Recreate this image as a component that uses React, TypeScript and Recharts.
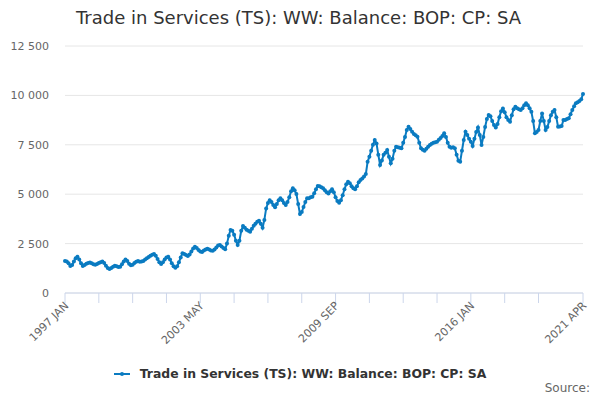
import { CartesianGrid, Line, LineChart, XAxis, YAxis } from "recharts";

const MONTH_NAMES = ["JAN", "FEB", "MAR", "APR", "MAY", "JUN", "JUL", "AUG", "SEP", "OCT", "NOV", "DEC"];

// monthly balance, 1997 JAN .. 2021 APR (£ million)
const balance = [
  1620, 1600, 1500, 1370, 1420, 1600, 1760, 1840, 1700, 1500, 1370, 1420,
  1480, 1520, 1540, 1500, 1450, 1430, 1470, 1520, 1560, 1590, 1520, 1380,
  1260, 1210, 1260, 1330, 1380, 1360, 1320, 1330, 1450, 1600, 1700, 1620,
  1480, 1400, 1430, 1520, 1580, 1620, 1580, 1590, 1620, 1700, 1760, 1820,
  1880, 1930, 1970, 1880, 1720, 1550, 1470, 1550, 1700, 1800, 1840, 1700,
  1500, 1350, 1280, 1350, 1550, 1800, 2010, 1980, 1920, 1870, 1950, 2100,
  2250, 2340, 2280, 2180, 2100, 2070, 2150, 2200, 2240, 2200, 2150, 2140,
  2200, 2300, 2400, 2430, 2350, 2280, 2210, 2500, 2900, 3190, 3150, 2950,
  2650, 2430, 2650, 3150, 3390, 3300, 3200, 3150, 3100, 3250, 3400, 3500,
  3600, 3660, 3500, 3300, 3700, 4280, 4550, 4700, 4600, 4450, 4340, 4500,
  4700, 4790, 4700, 4550, 4450, 4600, 4850, 5150, 5300, 5200, 5010, 4500,
  4000, 4100, 4350, 4600, 4790, 4800, 4850, 4870, 5050, 5250, 5410, 5400,
  5350, 5300, 5200, 5100, 5040, 5150, 5250, 5100, 4850, 4650, 4570, 4700,
  4950, 5250, 5500, 5630, 5550, 5400, 5300, 5250, 5400, 5600, 5720, 5800,
  5900, 6020, 6640, 6900, 7200, 7500, 7740, 7570, 7000, 6480, 6700, 7000,
  7100, 7240, 6900, 6560, 6800, 7200, 7400, 7380, 7350, 7320, 7600, 7900,
  8250, 8410, 8300, 8160, 8050, 7980, 7910, 7600, 7320, 7250, 7200, 7300,
  7400, 7490, 7550, 7600, 7630, 7660, 7750, 7850, 7950, 8080, 7900, 7600,
  7400, 7350, 7380, 7320, 7000, 6690, 6640, 7200, 7740, 8160, 8000, 7800,
  7660, 7440, 7800, 8150, 8380, 8000, 7490, 7900, 8400, 8800, 9010, 8950,
  8700, 8500, 8380, 8550, 8900, 9200, 9340, 9150, 8900, 8750, 8670, 9000,
  9300, 9430, 9350, 9300, 9260, 9350, 9500, 9600, 9500, 9350, 9170, 8700,
  8080, 8150, 8250, 8700, 9090, 8700, 8250, 8400, 8700, 9000, 9170, 9260,
  8900, 8410, 8420, 8450, 8750, 8760, 8800, 8840, 9050, 9260, 9450, 9600,
  9650, 9720, 9800, 10070,
];

const months = balance.map((_, i) => `${1997 + Math.floor(i / 12)} ${MONTH_NAMES[i % 12]}`);

const xTicks = [0, 19, 38, 57, 76, 95, 114, 133, 152, 171, 190, 209, 228, 247, 266, 291];
const xLabelled = [0, 76, 152, 228, 291];
const yTicks = [0, 2500, 5000, 7500, 10000, 12500];

const TITLE = "Trade in Services (TS): WW: Balance: BOP: CP: SA";
const BLUE = "#0a7bc1";
const FONT = "'DejaVu Sans', sans-serif";

const data = balance.map((value, i) => ({ i, month: months[i], value }));

const fmt = (v: number) => String(v).replace(/\B(?=(\d{3})+(?!\d))/g, " ");

function MonthTick({ x, y, payload }: any) {
  if (!xLabelled.includes(payload.value)) return null;
  return (
    <text
      x={x}
      y={y}
      dy={4}
      dx={2}
      transform={`rotate(-45 ${x} ${y})`}
      textAnchor="end"
      fontSize={11}
      fill="#666666"
      fontFamily={FONT}
    >
      {months[payload.value]}
    </text>
  );
}

export default function App() {
  return (
    <div style={{ position: "absolute", left: 0, top: 0, width: 600, height: 400, background: "#fff", fontFamily: FONT }}>
      <div style={{ position: "absolute", left: 76, top: 7, fontSize: 18, color: "#333333", whiteSpace: "nowrap" }}>
        {TITLE}
      </div>
      <LineChart width={600} height={400} data={data} margin={{ top: 46, right: 17, left: 5, bottom: 37 }}>
        <CartesianGrid stroke="#e6e6e6" vertical={false} />
        <XAxis
          dataKey="i"
          type="number"
          domain={[0, 291]}
          ticks={xTicks}
          interval={0}
          height={70}
          stroke="#ccd6eb"
          tickSize={10}
          tick={<MonthTick />}
        />
        <YAxis
          domain={[0, 12500]}
          ticks={yTicks}
          width={60}
          axisLine={false}
          tickLine={false}
          tickMargin={10}
          tickFormatter={fmt}
          tick={{ fontSize: 11, fill: "#666666", fontFamily: FONT }}
        />
        <Line
          dataKey="value"
          stroke={BLUE}
          strokeWidth={2}
          dot={{ r: 2, fill: BLUE, stroke: "none" }}
          isAnimationActive={false}
        />
      </LineChart>
      <div
        style={{
          position: "absolute",
          left: 0,
          width: 600,
          top: 366,
          display: "flex",
          justifyContent: "center",
          alignItems: "center",
          fontSize: 12.4,
          fontWeight: "bold",
          color: "#333333",
        }}
      >
        <svg width={22} height={10} style={{ marginRight: 4 }}>
          <line x1={0} y1={5} x2={16} y2={5} stroke={BLUE} strokeWidth={2} />
          <circle cx={8} cy={5} r={2} fill={BLUE} />
        </svg>
        {TITLE}
      </div>
      <div style={{ position: "absolute", right: 10, top: 381, fontSize: 12, color: "#666666" }}>Source:</div>
    </div>
  );
}
